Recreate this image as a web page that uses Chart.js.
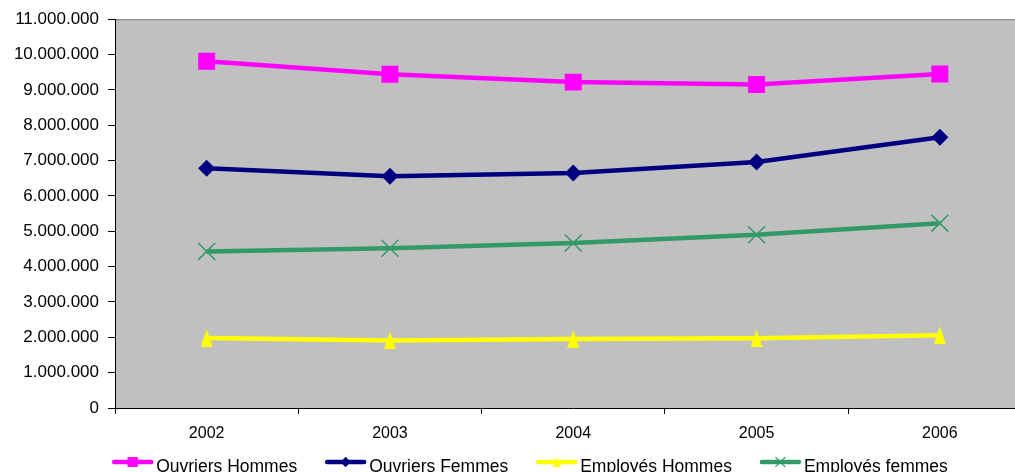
<!DOCTYPE html>
<html>
<head>
<meta charset="utf-8">
<script src="https://cdn.jsdelivr.net/npm/chart.js@4.4.1/dist/chart.umd.min.js"></script>
<style>
  html, body { margin: 0; padding: 0; background: #fff; overflow: hidden; }
  #wrap { width: 1045px; height: 472px; }
</style>
</head>
<body>
<div id="wrap"><canvas id="chart" width="1045" height="472"></canvas></div>
<script>
// data
const YEARS = [ '2002', '2003', '2004', '2005', '2006' ];
const OUVRIERS_HOMMES = [ 9810000, 9440000, 9220000, 9150000, 9450000 ];
const OUVRIERS_FEMMES = [ 6780000, 6560000, 6650000, 6960000, 7660000 ];
const EMPLOYES_HOMMES = [ 1980000, 1910000, 1950000, 1970000, 2060000 ];
const EMPLOYES_FEMMES = [ 4430000, 4520000, 4670000, 4900000, 5230000 ];
const Y_MAX = 11000000;
const Y_STEP = 1000000;

const FONT = 'Liberation Sans, Arial, sans-serif';

function format_dots( v ) {
  return String( v ).replace( /\B(?=(\d{3})+(?!\d))/g, '.' );
}

// narrow triangle marker, like the excel one
function make_triangle( w, h, color ) {
  var c = document.createElement( 'canvas' );
  c.width = w;
  c.height = h;
  var ctx = c.getContext( '2d' );
  ctx.fillStyle = color;
  ctx.beginPath();
  ctx.moveTo( w / 2, 0 );
  ctx.lineTo( w, h );
  ctx.lineTo( 0, h );
  ctx.closePath();
  ctx.fill();
  return c;
}

const TRI_BIG = make_triangle( 12, 18, '#FFFF00' );
const TRI_SMALL = make_triangle( 8, 10, '#FFFF00' );

function make_dataset( label, values, color, style, radius, legend_style, legend_radius ) {
  return {
    label: label,
    data: values,
    borderColor: color,
    backgroundColor: color,
    borderWidth: 4.5,
    pointStyle: style,
    pointRadius: radius,
    pointHoverRadius: radius,
    pointBackgroundColor: color,
    pointBorderColor: color,
    pointBorderWidth: style == 'crossRot' ? 1.5 : 0,
    tension: 0,
    legend_style: legend_style,
    legend_radius: legend_radius
  };
}

// plot background + top border
const plot_bg = {
  id: 'plot_bg',
  beforeDraw( chart ) {
    var a = chart.chartArea;
    var ctx = chart.ctx;
    ctx.save();
    ctx.fillStyle = '#C0C0C0';
    ctx.fillRect( a.left, a.top, a.right - a.left, a.bottom - a.top );
    ctx.strokeStyle = '#808080';
    ctx.lineWidth = 1;
    ctx.beginPath();
    ctx.moveTo( a.left, a.top + 0.5 );
    ctx.lineTo( a.right, a.top + 0.5 );
    ctx.stroke();
    ctx.restore();
  }
};

// excel style legend: line sample with marker in the middle
const line_legend = {
  id: 'line_legend',
  afterDraw( chart ) {
    var ctx = chart.ctx;
    var sets = chart.data.datasets;
    var sample_w = 41, text_gap = 3, item_gap = 28;
    var y = 462;
    ctx.save();
    ctx.font = '17.5px ' + FONT;
    var widths = sets.map( ds => ctx.measureText( ds.label ).width );
    var total = 0;
    widths.forEach( w => { total += sample_w + text_gap + w; } );
    total += item_gap * ( sets.length - 1 );
    var x = 530 - total / 2;
    sets.forEach( ( ds, i ) => {
      ctx.strokeStyle = ds.borderColor;
      ctx.lineWidth = 4.5;
      ctx.lineCap = 'round';
      ctx.beginPath();
      ctx.moveTo( x + 2, y );
      ctx.lineTo( x + sample_w - 2, y );
      ctx.stroke();
      ctx.fillStyle = ds.borderColor;
      ctx.lineWidth = 1.2;
      ctx.lineCap = 'butt';
      Chart.helpers.drawPoint( ctx, {
        pointStyle: ds.legend_style,
        radius: ds.legend_radius,
        rotation: 0,
        borderWidth: ds.pointStyle == 'crossRot' ? 1.2 : 0
      }, x + sample_w / 2, y );
      if ( ds.legend_style != 'crossRot' && typeof ds.legend_style == 'string' ) {
        ctx.fill();
      }
      ctx.fillStyle = '#000';
      ctx.textBaseline = 'middle';
      ctx.textAlign = 'left';
      ctx.fillText( ds.label, x + sample_w + text_gap, y + 5 );
      x += sample_w + text_gap + widths[ i ] + item_gap;
    } );
    ctx.restore();
  }
};

var ctx = document.getElementById( 'chart' ).getContext( '2d' );
var chart = new Chart( ctx, {
  type: 'line',
  data: {
    labels: YEARS,
    datasets: [
      make_dataset( 'Ouvriers Hommes', OUVRIERS_HOMMES, '#FF00FF', 'rect', 12, 'rect', 7 ),
      make_dataset( 'Ouvriers Femmes', OUVRIERS_FEMMES, '#000080', 'rectRot', 8.5, 'rectRot', 5 ),
      make_dataset( 'Employés Hommes', EMPLOYES_HOMMES, '#FFFF00', TRI_BIG, 9, TRI_SMALL, 5 ),
      make_dataset( 'Employés femmes', EMPLOYES_FEMMES, '#339966', 'crossRot', 12, 'crossRot', 7 )
    ]
  },
  options: {
    responsive: false,
    animation: false,
    devicePixelRatio: 1,
    layout: { padding: { top: 19, right: 0, bottom: 0, left: 0 } },
    plugins: {
      legend: { display: false },
      tooltip: { enabled: false }
    },
    scales: {
      x: {
        offset: true,
        grid: {
          offset: true,
          drawOnChartArea: false,
          drawTicks: true,
          tickLength: 6,
          color: '#000'
        },
        border: { color: '#000', width: 1 },
        ticks: {
          color: '#000',
          font: { family: FONT, size: 16 },
          padding: 10,
          maxRotation: 0
        },
        afterFit( scale ) { scale.height = 64; }
      },
      y: {
        min: 0,
        max: Y_MAX,
        grid: {
          drawOnChartArea: false,
          drawTicks: true,
          tickLength: 7,
          color: '#000'
        },
        border: { color: '#000', width: 1 },
        ticks: {
          stepSize: Y_STEP,
          color: '#000',
          font: { family: FONT, size: 17 },
          padding: 9,
          callback: v => format_dots( v )
        },
        afterFit( scale ) { scale.width = 115; }
      }
    }
  },
  plugins: [ plot_bg, line_legend ]
} );
</script>
</body>
</html>
